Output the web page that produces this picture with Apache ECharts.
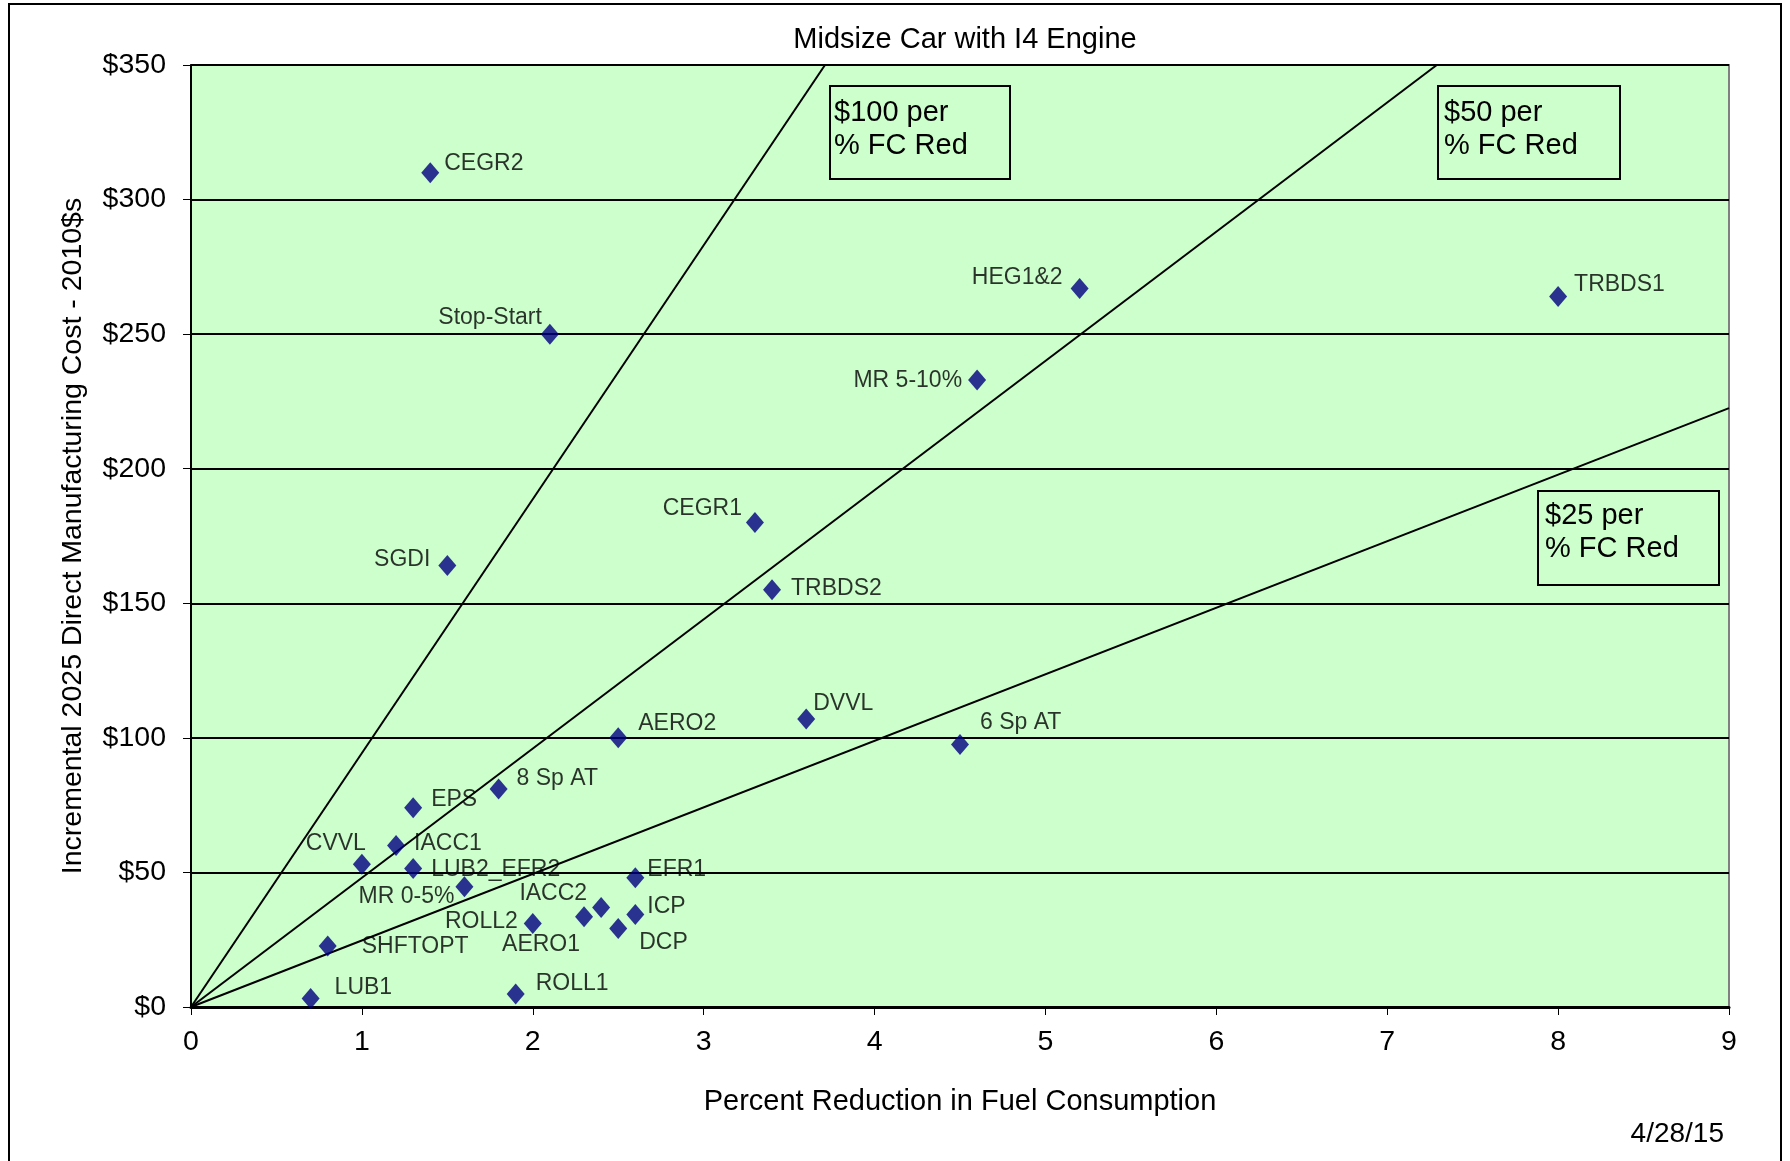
<!DOCTYPE html>
<html>
<head>
<meta charset="utf-8">
<script src="https://cdn.jsdelivr.net/npm/echarts@6/dist/echarts.min.js"></script>
<style>
html,body{margin:0;padding:0;background:#fff;}
#chart{width:1790px;height:1161px;}
</style>
</head>
<body>
<div id="chart"></div>
<script>
// ---- Data ----
const techNames = ['CEGR2','Stop-Start','HEG1&2','TRBDS1','MR 5-10%','CEGR1','SGDI','TRBDS2','DVVL','AERO2','6 Sp AT','8 Sp AT','EPS','IACC1','CVVL','LUB2_EFR2','MR 0-5%','EFR1','IACC2','ICP','ROLL2','AERO1','DCP','SHFTOPT','LUB1','ROLL1'];
const fcReductionPct = [1.4, 2.1, 5.2, 8.0, 4.6, 3.3, 1.5, 3.4, 3.6, 2.5, 4.5, 1.8, 1.3, 1.2, 1.0, 1.3, 1.6, 2.6, 2.4, 2.6, 2.0, 2.3, 2.5, 0.8, 0.7, 1.9];
const costUSD = [310, 250, 267, 264, 233, 180, 164, 155, 107, 100, 97.5, 81, 74, 60, 53, 51.5, 44.7, 48, 37, 34.4, 31, 33.5, 29.2, 22.7, 3.2, 4.8];
// reference "cost per % FC reduction" lines, endpoints as drawn in the picture
const line100 = [[0, 0], [3.71, 350]];
const line50 = [[0, 0], [7.29, 350]];
const line25 = [[0, 0], [9, 222.5]];
const yTicks = [0, 50, 100, 150, 200, 250, 300, 350];
const xTicks = [0, 1, 2, 3, 4, 5, 6, 7, 8, 9];

// ---- label placement (style, not data): [align, dx, dy] ----
const labelPlacement = {
  'CEGR2': ['left', 14, -9], 'Stop-Start': ['right', -8, -16], 'HEG1&2': ['right', -17, -11],
  'TRBDS1': ['left', 16, -12], 'MR 5-10%': ['right', -15, 1], 'CEGR1': ['right', -13, -14],
  'SGDI': ['right', -17, -6], 'TRBDS2': ['left', 19, -1], 'DVVL': ['left', 7, -15],
  'AERO2': ['left', 20, -14], '6 Sp AT': ['left', 20, -22], '8 Sp AT': ['left', 18, -10],
  'EPS': ['left', 18, -8], 'IACC1': ['left', 18, -2], 'CVVL': ['right', 4, -21],
  'LUB2_EFR2': ['left', 18, 1], 'MR 0-5%': ['right', -10, 10], 'EFR1': ['left', 12, -8],
  'IACC2': ['right', -14, -14], 'ICP': ['left', 12, -8], 'ROLL2': ['right', -15, -2],
  'AERO1': ['right', -4, 28], 'DCP': ['left', 21, 14], 'SHFTOPT': ['left', 34, 1],
  'LUB1': ['left', 24, -11], 'ROLL1': ['left', 20, -10]
};

const FONT = 'Liberation Sans, Arial, Helvetica, sans-serif';

const scatterData = techNames.map((n, i) => {
  const p = labelPlacement[n];
  return {
    name: n,
    value: [fcReductionPct[i], costUSD[i]],
    label: { align: p[0], offset: [p[1], p[2]] }
  };
});

const refLineStyle = { color: '#000', width: 2 };
function refLine(data) {
  return {
    type: 'line', data: data, symbol: 'none', silent: true, z: 3,
    lineStyle: refLineStyle, animation: false
  };
}

function boxAnno(x, y, w, h, tx, ty, txt) {
  return {
    type: 'group', z: 100, children: [
      { type: 'rect', shape: { x: x, y: y, width: w, height: h }, style: { fill: null, stroke: '#000', lineWidth: 2 } },
      { type: 'text', x: tx, y: ty, style: { text: txt, font: '29px ' + FONT, fill: '#000', lineHeight: 33, textVerticalAlign: 'top' } }
    ]
  };
}

const chart = echarts.init(document.getElementById('chart'), null, { renderer: 'canvas' });
chart.setOption({
  animation: false,
  backgroundColor: '#fff',
  title: {
    text: 'Midsize Car with I4 Engine',
    left: 960, top: 20, textAlign: 'center',
    textStyle: { fontFamily: FONT, fontSize: 29, fontWeight: 'normal', color: '#000' }
  },
  grid: {
    left: 191, top: 65, right: 61, bottom: 154,
    show: true, backgroundColor: '#CCFFCC', borderColor: '#808080', borderWidth: 2
  },
  xAxis: {
    type: 'value', min: xTicks[0], max: xTicks[xTicks.length - 1], interval: 1,
    name: 'Percent Reduction in Fuel Consumption', nameLocation: 'middle', nameGap: 80,
    nameTextStyle: { fontFamily: FONT, fontSize: 29, color: '#000' },
    axisLine: { onZero: false, lineStyle: { color: '#000', width: 3 } },
    axisTick: { show: true, length: 8, lineStyle: { color: '#000', width: 1 } },
    axisLabel: { fontFamily: FONT, fontSize: 28.5, color: '#000', margin: 21 },
    splitLine: { show: false }
  },
  yAxis: {
    type: 'value', min: yTicks[0], max: yTicks[yTicks.length - 1], interval: 50,
    name: 'Incremental 2025 Direct Manufacturing Cost - 2010$s', nameLocation: 'middle', nameGap: 103,
    nameTextStyle: { fontFamily: FONT, fontSize: 28.5, color: '#000' },
    axisLine: { show: true, lineStyle: { color: '#000', width: 2 } },
    axisTick: { show: true, length: 8, lineStyle: { color: '#000', width: 1 } },
    axisLabel: { fontFamily: FONT, fontSize: 28.5, color: '#000', margin: 25, formatter: v => '$' + v },
    splitLine: { show: true, lineStyle: { color: '#000', width: 2 } }
  },
  series: [
    refLine(line100), refLine(line50), refLine(line25),
    {
      type: 'scatter', z: 5,
      symbol: 'diamond', symbolSize: [18, 21],
      itemStyle: { color: '#000080' },
      label: {
        show: true, position: 'inside', verticalAlign: 'middle',
        formatter: p => p.name,
        fontFamily: FONT, fontSize: 23, color: '#000'
      },
      data: scatterData
    }
  ],
  graphic: [
    { type: 'rect', z: 100, shape: { x: 9, y: 4, width: 1772, height: 1200 }, style: { fill: null, stroke: '#000', lineWidth: 2 } },
    boxAnno(830, 86, 180, 93, 834, 96, '$100 per\n% FC Red'),
    boxAnno(1438, 86, 182, 93, 1444, 96, '$50 per\n% FC Red'),
    boxAnno(1538, 491, 181, 94, 1545, 499, '$25 per\n% FC Red'),
    { type: 'text', z: 100, x: 1724, y: 1134, style: { text: '4/28/15', font: '28px ' + FONT, fill: '#000', textAlign: 'right', textVerticalAlign: 'middle' } }
  ]
});
</script>
</body>
</html>
